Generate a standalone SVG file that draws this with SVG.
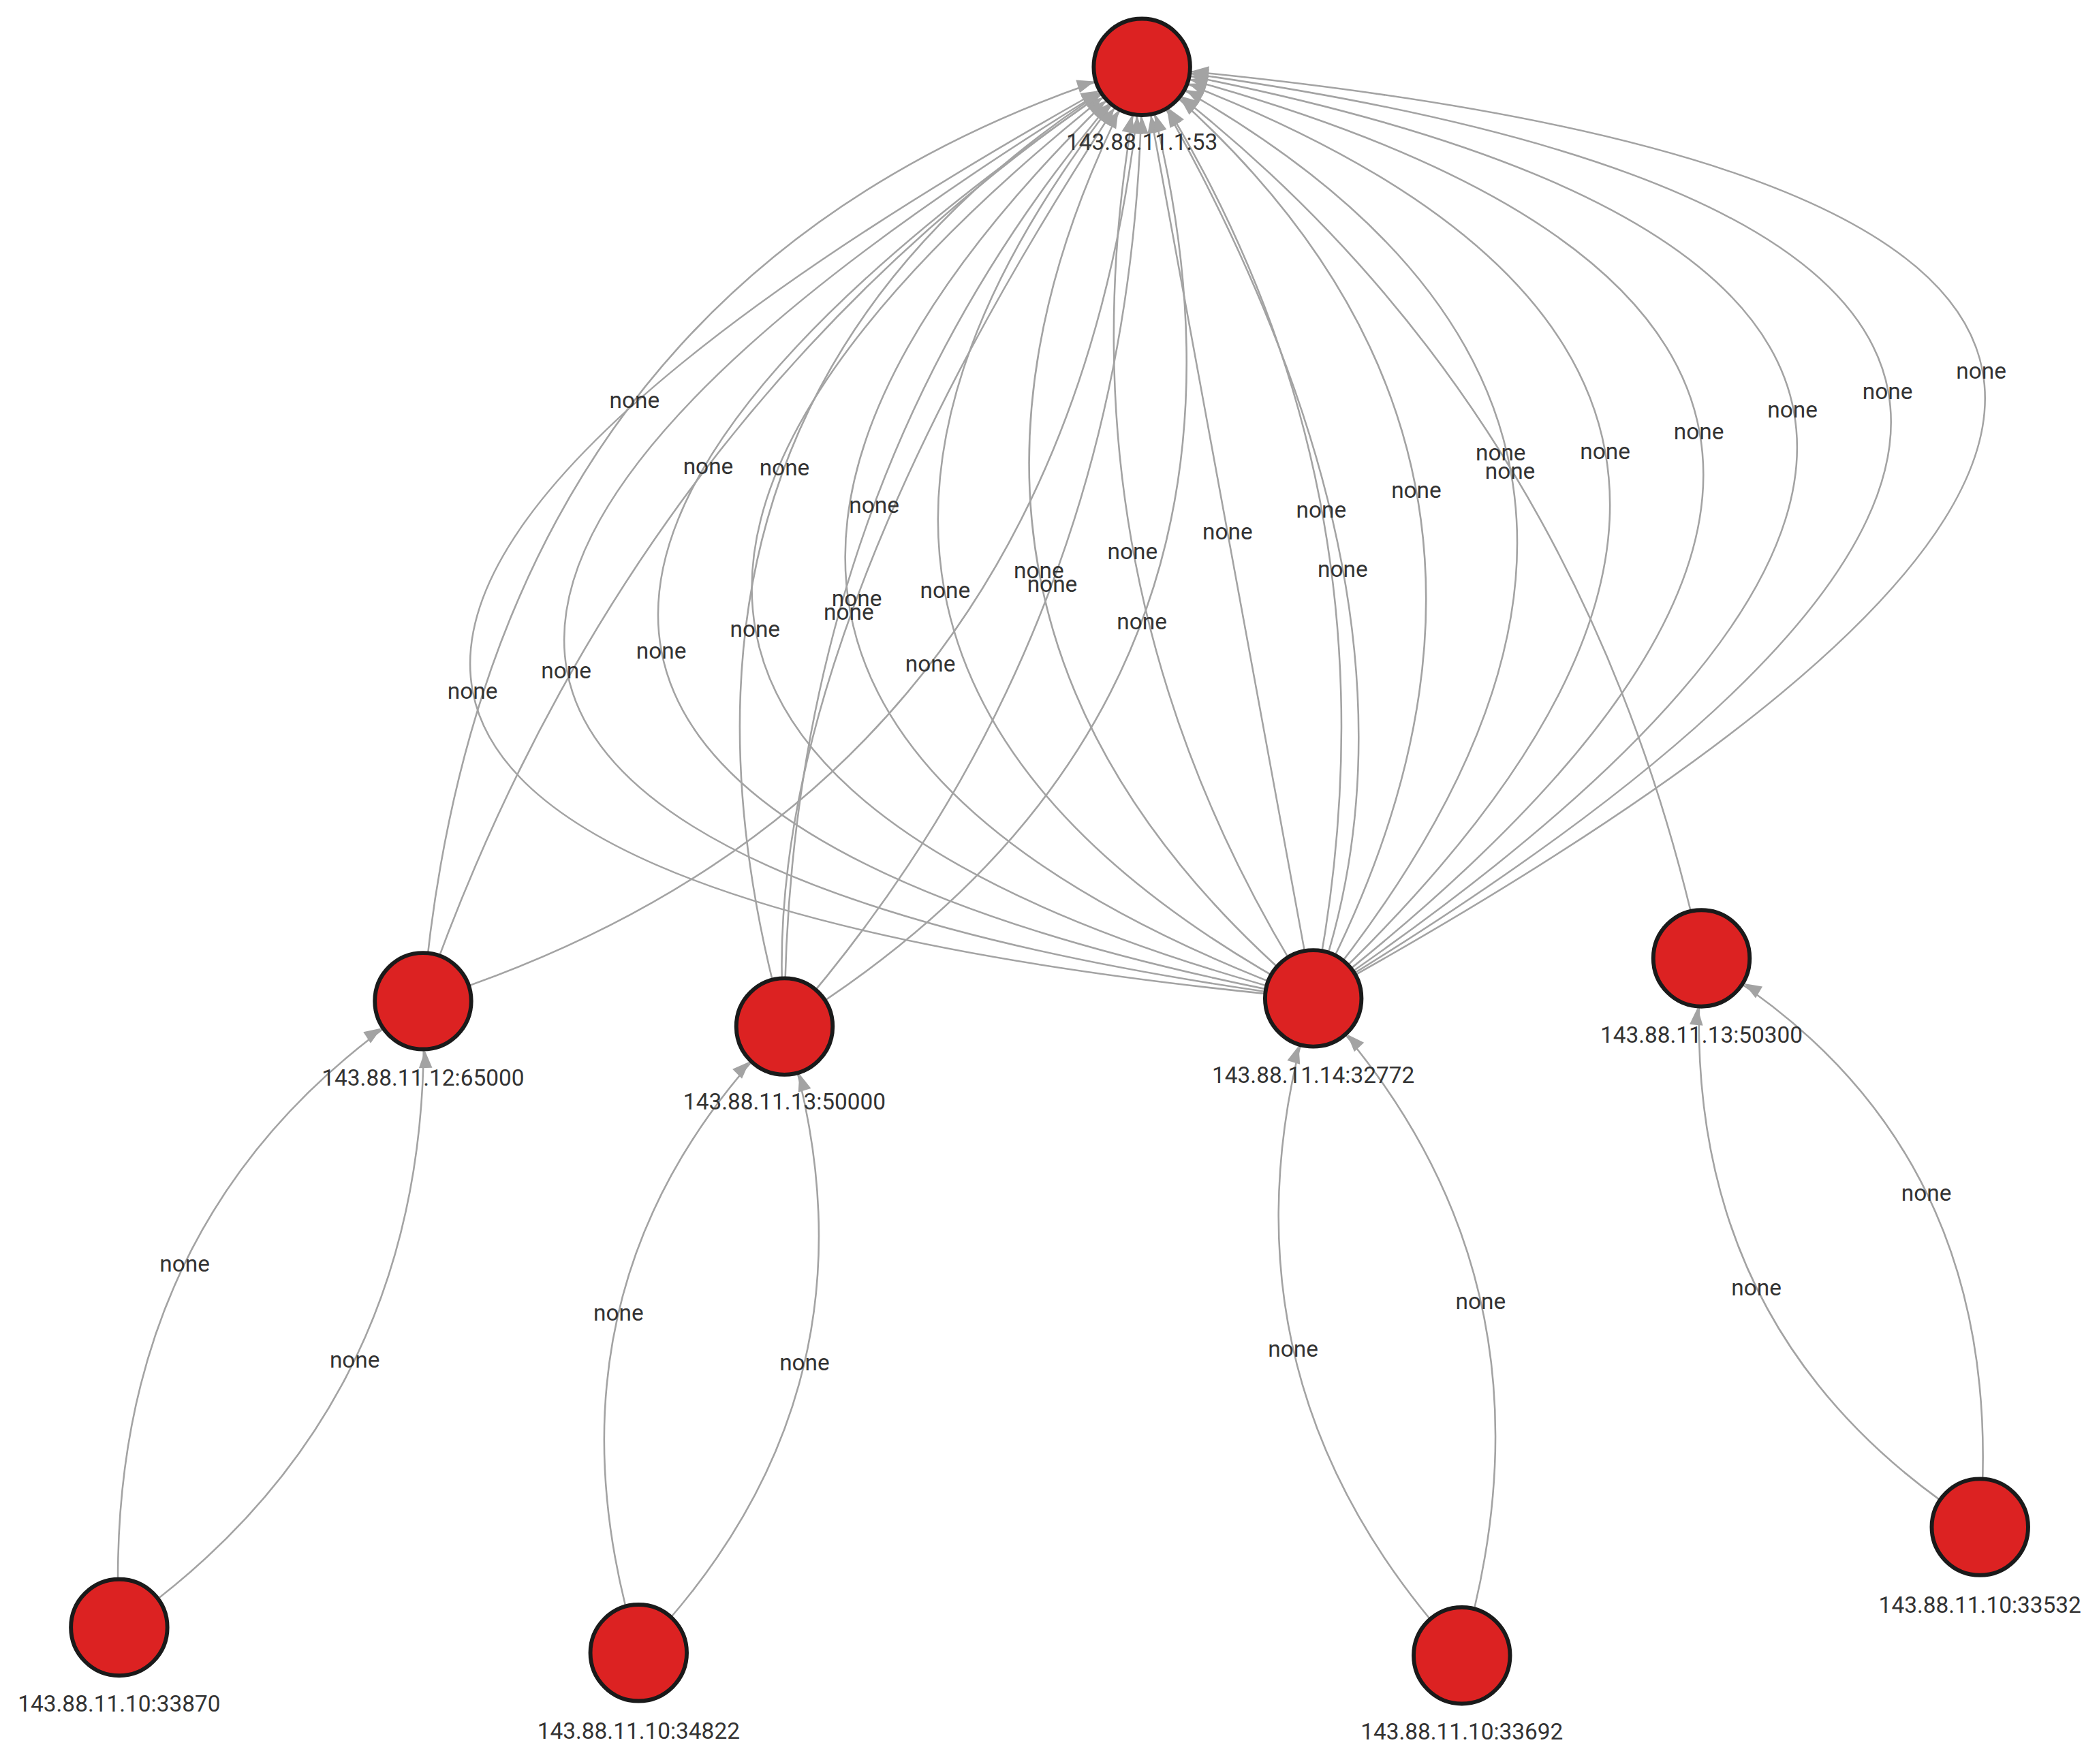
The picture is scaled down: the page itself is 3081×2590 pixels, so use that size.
<svg xmlns="http://www.w3.org/2000/svg" width="3081" height="2590" viewBox="0 0 3081 2590">
<style>
.e{fill:none;stroke:#a3a3a3;stroke-width:1.3;marker-end:url(#ah)}
.n{fill:#dc2222;stroke:#1a1a1a;stroke-width:3}
.l{font-family:Roboto,"Liberation Sans",sans-serif;font-size:17px;fill:#333;text-anchor:middle}
.nl{font-family:Roboto,"Liberation Sans",sans-serif;font-size:17px;fill:#333;text-anchor:middle}
</style>
<defs>
<marker id="ah" markerUnits="userSpaceOnUse" viewBox="0 -6 60 12" refX="50" refY="0" markerWidth="60" markerHeight="12" orient="auto" overflow="visible">
<path d="M0,-5 L13,0 L0,5 z" fill="#a3a3a3"/>
</marker>
</defs>
<rect width="3081" height="2590" fill="#fff"/>
<g transform="scale(1.965)">
<g id="edges">
<path class="e" d="M981,746 Q-211,634 853,50"/>
<path class="e" d="M981,746 Q-70,604 853,50"/>
<path class="e" d="M981,746 Q71,574 853,50"/>
<path class="e" d="M981,746 Q212,545 853,50"/>
<path class="e" d="M981,746 Q353,515 853,50"/>
<path class="e" d="M981,746 Q494,485 853,50"/>
<path class="e" d="M981,746 Q635,455 853,50"/>
<path class="e" d="M981,746 Q776,425 853,50"/>
<path class="e" d="M981,746 Q917,396 853,50"/>
<path class="e" d="M981,746 Q1058,366 853,50"/>
<path class="e" d="M981,746 Q1199,336 853,50"/>
<path class="e" d="M981,746 Q1340,306 853,50"/>
<path class="e" d="M981,746 Q1481,276 853,50"/>
<path class="e" d="M981,746 Q1622,247 853,50"/>
<path class="e" d="M981,746 Q1763,217 853,50"/>
<path class="e" d="M981,746 Q1904,187 853,50"/>
<path class="e" d="M981,746 Q2045,157 853,50"/>
<path class="e" d="M981,746 Q1089,452 853,50"/>
<path class="e" d="M316,748 Q363.5,199 853,50"/>
<path class="e" d="M316,748 Q473.5,297 853,50"/>
<path class="e" d="M316,748 Q805.5,593 853,50"/>
<path class="e" d="M586,767 Q452.5,289.5 853,50"/>
<path class="e" d="M586,767 Q586.5,345.5 853,50"/>
<path class="e" d="M586,767 Q852.5,463.5 853,50"/>
<path class="e" d="M586,767 Q986.5,519.5 853,50"/>
<path class="e" d="M586,767 Q560.5,485.5 853,50"/>
<path class="e" d="M1271,716 Q1180,293 853,50"/>
<path class="e" d="M89,1216 Q73.5,906 316,748"/>
<path class="e" d="M89,1216 Q327.5,1050 316,748"/>
<path class="e" d="M477,1235 Q392.5,961 586,767"/>
<path class="e" d="M477,1235 Q670.5,1035 586,767"/>
<path class="e" d="M1092,1237 Q895.5,1024.5 981,746"/>
<path class="e" d="M1092,1237 Q1175.5,952.5 981,746"/>
<path class="e" d="M1479,1141 Q1249,995.5 1271,716"/>
<path class="e" d="M1479,1141 Q1503,853.5 1271,716"/>
</g>
<g id="edge-labels">
<text class="l" x="353" y="522">none</text>
<text class="l" x="423" y="507">none</text>
<text class="l" x="494" y="492">none</text>
<text class="l" x="564" y="476">none</text>
<text class="l" x="634" y="463">none</text>
<text class="l" x="706" y="447">none</text>
<text class="l" x="776" y="432">none</text>
<text class="l" x="846" y="418">none</text>
<text class="l" x="917" y="403">none</text>
<text class="l" x="987" y="387">none</text>
<text class="l" x="1058" y="372">none</text>
<text class="l" x="1128" y="358">none</text>
<text class="l" x="1199" y="343">none</text>
<text class="l" x="1269" y="328">none</text>
<text class="l" x="1339" y="312">none</text>
<text class="l" x="1410" y="298">none</text>
<text class="l" x="1480" y="283">none</text>
<text class="l" x="1003" y="431">none</text>
<text class="l" x="474" y="305">none</text>
<text class="l" x="529" y="354">none</text>
<text class="l" x="695" y="502">none</text>
<text class="l" x="586" y="355">none</text>
<text class="l" x="653" y="383">none</text>
<text class="l" x="786" y="442">none</text>
<text class="l" x="853" y="470">none</text>
<text class="l" x="640" y="453">none</text>
<text class="l" x="1121" y="344">none</text>
<text class="l" x="138" y="950">none</text>
<text class="l" x="265" y="1022">none</text>
<text class="l" x="462" y="987">none</text>
<text class="l" x="601" y="1024">none</text>
<text class="l" x="966" y="1014">none</text>
<text class="l" x="1106" y="978">none</text>
<text class="l" x="1312" y="968">none</text>
<text class="l" x="1439" y="897">none</text>
</g>
<g id="n-top"><circle class="n" cx="853" cy="50" r="36"/><text class="nl" x="853" y="112">143.88.11.1:53</text></g>
<g id="n-65000"><circle class="n" cx="316" cy="748" r="36"/><text class="nl" x="316" y="811">143.88.11.12:65000</text></g>
<g id="n-50000"><circle class="n" cx="586" cy="767" r="36"/><text class="nl" x="586" y="829">143.88.11.13:50000</text></g>
<g id="n-32772"><circle class="n" cx="981" cy="746" r="36"/><text class="nl" x="981" y="809">143.88.11.14:32772</text></g>
<g id="n-50300"><circle class="n" cx="1271" cy="716" r="36"/><text class="nl" x="1271" y="779">143.88.11.13:50300</text></g>
<g id="n-33870"><circle class="n" cx="89" cy="1216" r="36"/><text class="nl" x="89" y="1279">143.88.11.10:33870</text></g>
<g id="n-34822"><circle class="n" cx="477" cy="1235" r="36"/><text class="nl" x="477" y="1299">143.88.11.10:34822</text></g>
<g id="n-33692"><circle class="n" cx="1092" cy="1237" r="36"/><text class="nl" x="1092" y="1300">143.88.11.10:33692</text></g>
<g id="n-33532"><circle class="n" cx="1479" cy="1141" r="36"/><text class="nl" x="1479" y="1205">143.88.11.10:33532</text></g>
</g>
</svg>
